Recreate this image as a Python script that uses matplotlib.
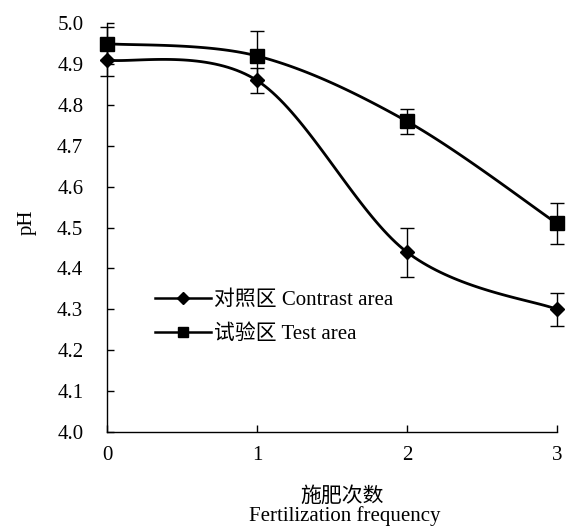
import numpy as np
import matplotlib
matplotlib.use('Agg')
import matplotlib.pyplot as plt
from matplotlib.lines import Line2D

plt.rcParams['font.family'] = ['Liberation Serif', 'Noto Sans CJK SC']
plt.rcParams['font.size'] = 15

freq = [0, 1, 2, 3]
contrast_ph = [4.91, 4.86, 4.44, 4.30]
contrast_err = [0.04, 0.03, 0.06, 0.04]
test_ph = [4.95, 4.92, 4.76, 4.51]
test_err = [0.04, 0.06, 0.03, 0.05]
x_ticks = [0, 1, 2, 3]
y_ticks = [4.0, 4.1, 4.2, 4.3, 4.4, 4.5, 4.6, 4.7, 4.8, 4.9, 5.0]


def smooth(xs, ys, n=40):
    # excel-like smoothed line: cubic bezier through the points
    p = np.column_stack([xs, ys]).astype(float)
    ext = np.vstack([p[0], p, p[-1]])
    out = []
    for i in range(len(p) - 1):
        p0, p1, p2, p3 = ext[i], ext[i + 1], ext[i + 2], ext[i + 3]
        c1 = p1 + (p2 - p0) / 6
        c2 = p2 - (p3 - p1) / 6
        t = np.linspace(0, 1, n)[:, None]
        seg = (1 - t) ** 3 * p1 + 3 * (1 - t) ** 2 * t * c1 + 3 * (1 - t) * t ** 2 * c2 + t ** 3 * p2
        out.append(seg if i == 0 else seg[1:])
    out = np.vstack(out)
    return out[:, 0], out[:, 1]


fig = plt.figure(figsize=(5.66, 5.28), dpi=100)
ax = fig.add_axes([0.189, 0.182, 0.795, 0.774])

for ys, err, mk, ms in [(contrast_ph, contrast_err, 'D', 7.5), (test_ph, test_err, 's', 10)]:
    sx, sy = smooth(freq, ys)
    ax.plot(sx, sy, color='black', lw=2, zorder=3, clip_on=False)
    ax.errorbar(freq, ys, yerr=err, fmt='none', ecolor='black', elinewidth=1,
                capsize=5, capthick=1, zorder=2, clip_on=False)
    ax.plot(freq, ys, linestyle='none', marker=mk, ms=ms, color='black', zorder=4, clip_on=False)

ax.set_xlim(0, 3)
ax.set_ylim(4.0, 5.0)
ax.set_xticks(x_ticks)
ax.set_yticks(y_ticks)
ax.set_yticklabels(['%.1f' % v for v in y_ticks])
ax.tick_params(direction='in', length=5, width=1)
ax.tick_params(axis='y', pad=17)
ax.tick_params(axis='x', pad=10)
for s in ['top', 'right']:
    ax.spines[s].set_visible(False)
for s in ['left', 'bottom']:
    ax.spines[s].set_linewidth(1)

handles = [Line2D([], [], color='black', lw=1.8, marker='D', ms=6),
           Line2D([], [], color='black', lw=1.8, marker='s', ms=7.5)]
ax.legend(handles, ['对照区 Contrast area', '试验区 Test area'], loc='center left',
          bbox_to_anchor=(0.107, 0.28), frameon=False, borderpad=0, borderaxespad=0,
          handlelength=2.7, handletextpad=0.15, labelspacing=0.7, fontsize=15)

fig.text(27 / 566, 1 - 222 / 528, 'pH', rotation=90, ha='center', va='center', fontsize=15)
fig.text(342 / 566, 1 - 497 / 528, '施肥次数', ha='center', va='center', fontsize=15)
fig.text(345 / 566, 1 - 516 / 528, 'Fertilization frequency', ha='center', va='center', fontsize=15)

fig.savefig('out.png', dpi=100)
